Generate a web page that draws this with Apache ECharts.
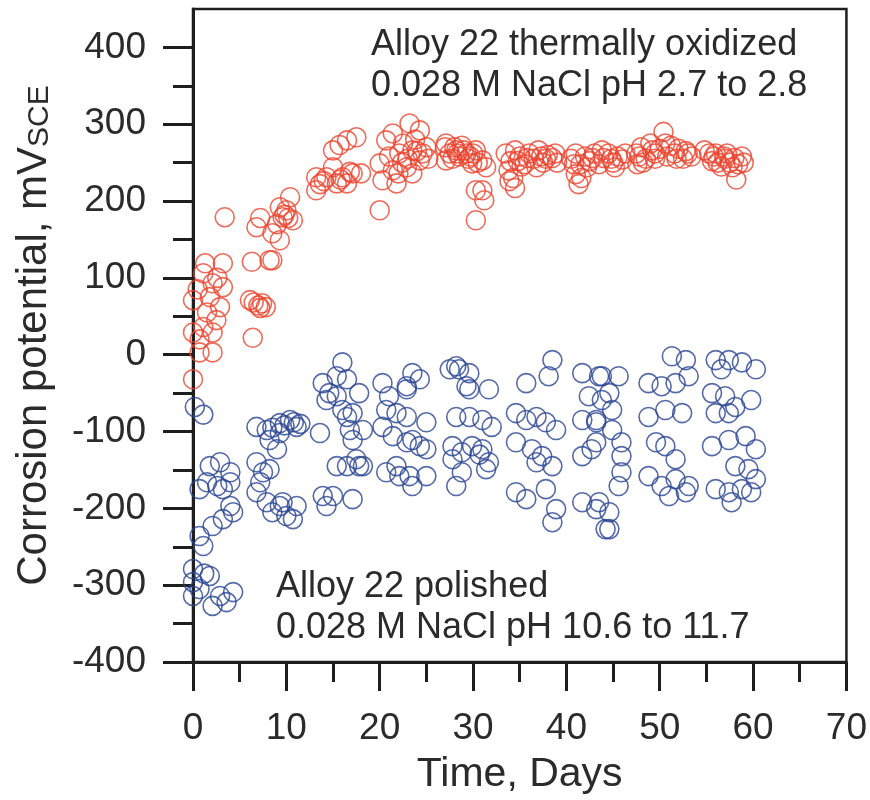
<!DOCTYPE html>
<html>
<head>
<meta charset="utf-8">
<script src="https://cdn.jsdelivr.net/npm/echarts@6/dist/echarts.min.js"></script>
<style>html,body{margin:0;padding:0;background:#fff;}#c{width:870px;height:800px;}</style>
</head>
<body>
<div id="c"></div>
<script>
// Tick values
const xTicks = [0, 10, 20, 30, 40, 50, 60, 70];
const yMajorTicks = [-400, -300, -200, -100, 0, 100, 200, 300, 400];
const yMinorTicks = [-350, -250, -150, -50, 50, 150, 250, 350];

// Thermally oxidized, pH 2.7 to 2.8: [days, mV]
const oxidized = [
[0.0,71],[0.0,29],[0.0,-32],[0.7,20],[0.7,3],[1.1,106],[1.3,119],[1.5,55],[1.1,36],[2.1,93],[2.1,29],[2.1,3],[2.9,62],[3.2,119],[3.2,88],[3.4,179],[2.5,45],[2.6,100],[0.5,85],[1.8,75],
[6.1,71],[6.3,121],[6.4,22],[6.5,68],[7.0,64],[7.2,61],[7.4,67],[7.8,62],[6.8,166],[7.2,178],[8.2,123],[8.5,158],[8.5,123],[9.3,149],[9.3,192],[9.6,179],[10.0,188],[10.4,205],[10.7,175],[9.0,170],[9.8,182],[10.2,178],
[13.2,231],[13.2,214],[13.6,222],[14.3,231],[15.0,244],[15.0,266],[15.4,223],[15.7,273],[16.0,231],[16.5,223],[16.5,279],[17.1,236],[17.5,283],[18.0,236],[16.8,238],[14.0,226],[15.8,228],
[20.0,188],[20.3,227],[20.0,249],[20.7,279],[21.4,288],[21.4,240],[21.8,223],[22.1,262],[22.9,244],[23.2,301],[23.5,266],[23.5,236],[24.3,292],[24.3,253],[25.0,270],[22.5,275],[24.0,265],[23.0,255],[25.2,255],[21.0,258],[22.4,250],[23.8,280],[24.6,262],[22.0,236],
[27.0,270],[27.1,275],[27.1,253],[27.5,262],[27.8,255],[28.0,270],[28.2,266],[28.5,258],[28.8,272],[29.0,266],[29.3,262],[29.5,255],[29.9,249],[30.0,262],[30.3,266],[30.3,214],[30.3,175],[30.5,250],[31.0,253],[31.0,214],[31.2,201],[31.4,244],[28.3,262],[29.7,258],
[33.5,262],[34.0,252],[34.5,266],[35.0,258],[35.5,248],[36.0,262],[36.5,255],[37.0,266],[37.5,250],[38.0,260],[38.5,256],[39.0,250],[33.8,240],[34.3,230],[33.9,226],[34.5,217],[35.2,245],[36.8,244],[38.8,262],[37.3,258],[35.8,256],[37.8,255],[34.8,252],
[40.5,255],[41.0,262],[41.5,248],[42.0,258],[42.5,252],[43.0,262],[43.5,248],[44.0,256],[44.5,262],[45.0,250],[45.5,258],[46.0,254],[46.3,262],[41.0,235],[41.3,222],[41.6,230],[42.2,244],[43.8,266],[45.2,244],[42.8,256],[44.8,255],[40.8,248],
[47.5,262],[48.0,270],[48.5,255],[49.0,275],[49.5,262],[50.0,268],[50.4,290],[50.8,258],[51.2,272],[51.6,262],[52.0,268],[52.5,255],[53.0,262],[53.4,258],[48.2,250],[49.5,255],[50.6,275],[51.8,255],[47.8,258],[49.2,266],[52.8,265],[47.6,248],
[54.8,266],[55.3,262],[55.8,258],[56.2,250],[56.6,245],[57.0,255],[57.5,250],[58.0,256],[58.4,248],[58.8,258],[59.0,250],[57.2,262],[58.2,228],[56.0,262],[55.6,252],[57.8,244],[56.9,258]
];

// Polished, pH 10.6 to 11.7: [days, mV]
const polished = [
[0.2,-68],[1.1,-78],[0.0,-279],[0.0,-296],[0.0,-314],[1.8,-288],[0.7,-305],[2.9,-314],[4.3,-309],[2.1,-327],[3.6,-322],[1.2,-285],
[0.7,-236],[1.1,-249],[2.1,-223],[3.2,-214],[4.0,-197],[4.3,-205],
[1.8,-145],[2.9,-140],[4.0,-153],[1.5,-166],[2.6,-171],[3.2,-175],[4.0,-166],[0.7,-175],
[6.8,-94],[7.9,-98],[9.3,-89],[10.4,-85],[11.1,-94],[9.3,-102],[8.2,-111],[9.0,-123],[6.8,-140],[7.5,-153],[7.2,-166],[8.2,-149],[6.8,-179],[7.9,-192],[8.5,-205],[9.3,-197],[10.0,-210],[11.1,-197],[10.7,-214],[9.6,-192],[8.5,-95],[9.8,-92],[10.8,-88],[11.5,-90],
[13.6,-102],[13.9,-184],[14.3,-197],[15.0,-184],[17.1,-188],[15.4,-145],[16.5,-145],[17.8,-145],[17.5,-136],[17.1,-111],[16.8,-98],[16.5,-81],[16.0,-72],[14.6,-50],[13.9,-37],[15.4,-28],[16.0,-10],[16.5,-32],[17.8,-50],[14.3,-59],[15.4,-54],[17.1,-76],[18.2,-98],[18.2,-145],
[20.3,-37],[21.0,-54],[20.7,-72],[21.8,-76],[22.9,-81],[20.3,-94],[21.4,-106],[22.9,-114],[24.3,-119],[23.5,-111],[25.0,-123],[20.7,-153],[22.1,-158],[23.2,-158],[23.5,-171],[25.0,-158],[23.5,-24],[24.3,-32],[25.0,-88],[22.9,-41],[21.8,-145],[22.9,-45],
[27.5,-19],[28.5,-19],[29.6,-24],[29.3,-41],[31.7,-45],[28.2,-81],[29.6,-81],[31.0,-85],[32.0,-94],[27.8,-119],[28.8,-127],[29.9,-119],[31.0,-123],[31.7,-140],[27.8,-136],[28.8,-153],[28.2,-171],[28.2,-15],[29.6,-45],[30.7,-130],[31.4,-149],
[35.7,-37],[38.5,-7],[38.1,-28],[34.6,-76],[35.7,-85],[36.8,-81],[37.8,-88],[38.9,-98],[34.6,-114],[36.3,-123],[37.4,-132],[38.5,-145],[36.8,-140],[34.6,-179],[35.7,-188],[37.8,-175],[38.9,-201],[38.5,-218],
[41.7,-24],[43.5,-28],[42.4,-54],[43.8,-59],[41.7,-85],[43.2,-88],[41.7,-132],[42.7,-123],[41.7,-192],[43.2,-201],[44.2,-227],
[43.8,-28],[45.6,-28],[44.6,-50],[44.9,-72],[43.2,-85],[44.9,-98],[45.9,-114],[43.2,-114],[45.9,-132],[45.9,-153],[45.6,-171],[43.5,-192],[44.6,-205],[44.6,-227],
[51.3,-2],[52.8,-7],[53.1,-28],[48.8,-37],[50.2,-41],[51.7,-37],[48.8,-81],[50.6,-72],[52.4,-76],[49.6,-114],[50.6,-119],[51.7,-136],[48.8,-158],[50.2,-171],[51.7,-162],[53.1,-171],[51.0,-184],[52.8,-179],
[56.0,-7],[57.4,-7],[58.8,-10],[60.3,-19],[56.6,-19],[55.6,-50],[57.0,-54],[58.1,-68],[59.8,-59],[56.0,-76],[57.4,-76],[55.6,-119],[57.4,-111],[59.2,-106],[60.3,-123],[58.1,-145],[59.5,-149],[60.3,-162],[56.0,-175],[57.4,-179],[58.8,-175],[59.8,-179],[57.7,-192]
];

const FONT = "'Liberation Sans', Arial, sans-serif";
const TXT = '#2b2b2b';
const AX = '#1e1e1e';

const chart = echarts.init(document.getElementById('c'));
chart.setOption({
  animation: false,
  backgroundColor: '#fff',
  textStyle: { fontFamily: FONT },
  title: [
    { text: 'Alloy 22 thermally oxidized\n0.028 M NaCl pH 2.7 to 2.8', left: 366, top: 20,
      textStyle: { fontFamily: FONT, fontSize: 36, fontWeight: 'normal', color: TXT, lineHeight: 41 } },
    { text: 'Alloy 22 polished\n0.028 M NaCl pH 10.6 to 11.7', left: 271, top: 562,
      textStyle: { fontFamily: FONT, fontSize: 36, fontWeight: 'normal', color: TXT, lineHeight: 41 } }
  ],
  grid: { left: 193, right: 22, top: 9, bottom: 137, show: true, borderColor: AX, borderWidth: 2.5, backgroundColor: 'transparent' },
  xAxis: {
    type: 'value', min: 0, max: 70, interval: 10,
    name: 'Time, Days', nameLocation: 'middle', nameGap: 92,
    nameTextStyle: { fontFamily: FONT, fontSize: 41, color: TXT },
    axisLine: { show: true, onZero: false, lineStyle: { color: AX, width: 3 } },
    axisTick: { show: true, inside: false, length: 29, lineStyle: { color: AX, width: 3 }, customValues: xTicks },
    minorTick: { show: true, splitNumber: 2, length: 20, lineStyle: { color: AX, width: 3 } },
    axisLabel: { margin: 48, fontFamily: FONT, fontSize: 37, color: TXT, customValues: xTicks },
    splitLine: { show: false }, minorSplitLine: { show: false }
  },
  yAxis: [{
    type: 'value', min: -400, max: 450,
    name: '{a|Corrosion potential, mV}{b|SCE}', nameLocation: 'middle', nameGap: 138,
    nameTextStyle: { fontFamily: FONT, color: TXT,
      rich: { a: { fontFamily: FONT, fontSize: 42, color: TXT }, b: { fontFamily: FONT, fontSize: 30, color: TXT, verticalAlign: 'bottom' } } },
    axisLine: { show: true, onZero: false, lineStyle: { color: AX, width: 3 } },
    axisTick: { show: true, inside: false, length: 30, lineStyle: { color: AX, width: 3 }, customValues: yMajorTicks },
    axisLabel: { margin: 47, fontFamily: FONT, fontSize: 37, color: TXT, customValues: yMajorTicks },
    splitLine: { show: false }
  }, {
    type: 'value', min: -400, max: 450, position: 'left',
    axisLine: { show: false, onZero: false },
    axisTick: { show: true, inside: false, length: 20, lineStyle: { color: AX, width: 3 }, customValues: yMinorTicks },
    axisLabel: { show: false },
    splitLine: { show: false }
  }],
  series: [{
    type: 'scatter', name: 'thermally oxidized', data: oxidized, yAxisIndex: 0,
    symbol: 'circle', symbolSize: 19,
    itemStyle: { color: 'rgba(0,0,0,0)', borderColor: '#ea4530', borderWidth: 1.6 }
  }, {
    type: 'scatter', name: 'polished', data: polished, yAxisIndex: 0,
    symbol: 'circle', symbolSize: 19,
    itemStyle: { color: 'rgba(0,0,0,0)', borderColor: '#2a4592', borderWidth: 1.6 }
  }]
});
</script>
</body>
</html>
